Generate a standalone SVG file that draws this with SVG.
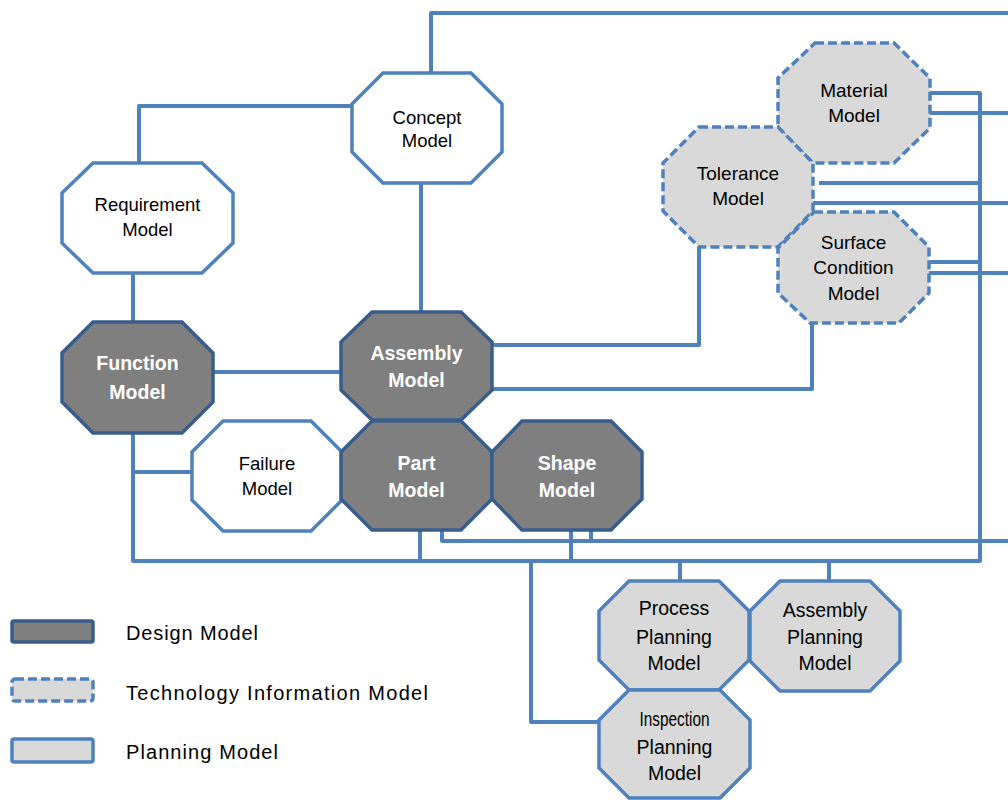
<svg xmlns="http://www.w3.org/2000/svg" width="1008" height="800" viewBox="0 0 1008 800">
<style>
.c{fill:none;stroke:#4F81BD;stroke-width:4;stroke-linejoin:round}
.w{fill:#FFFFFF;stroke:#4F81BD;stroke-width:3.5}
.d{fill:#7F7F7F;stroke:#385D8A;stroke-width:3.5}
.t{fill:#D9D9D9;stroke:#4F81BD;stroke-width:3.5;stroke-dasharray:9 4}
.p{fill:#D9D9D9;stroke:#4F81BD;stroke-width:3.5}
text{font-family:"Liberation Sans",Arial,sans-serif;text-anchor:middle;dominant-baseline:central;fill:#000}
.lw{font-size:18.5px}
.lt{font-size:19px}
.lp{font-size:19.5px}
.ld{font-size:19.5px;font-weight:bold;fill:#FFFFFF}
.lg{font-size:20px;text-anchor:start}
</style>
<g id="connectors">
<path class="c" d="M431,73 V13 H1008"/>
<path class="c" d="M139,163 V106 H352"/>
<path class="c" d="M133,273 V322"/>
<path class="c" d="M421,183 V312"/>
<path class="c" d="M213,372 H341"/>
<path class="c" d="M133,433 V561 H980 V93 H930"/>
<path class="c" d="M133,472 H192"/>
<path class="c" d="M930,113 H1008"/>
<path class="c" d="M819,183 H980"/>
<path class="c" d="M813,203 H1008"/>
<path class="c" d="M929,262 H980"/>
<path class="c" d="M929,273 H1008"/>
<path class="c" d="M699,247 V345 H492"/>
<path class="c" d="M812,323 V389 H492"/>
<path class="c" d="M420,530 V561"/>
<path class="c" d="M442,530 V541 H1008"/>
<path class="c" d="M571,530 V561"/>
<path class="c" d="M591,530 V541"/>
<path class="c" d="M531,561 V722 H599"/>
<path class="c" d="M680,561 V581"/>
<path class="c" d="M829,561 V581"/>
</g>
<g id="concept">
<polygon class="w" points="383,73 471,73 502,104 502,152 471,183 383,183 352,152 352,104"/>
<text class="lw" x="427" y="117">Concept</text>
<text class="lw" x="427" y="140">Model</text>
</g>
<g id="requirement">
<polygon class="w" points="93,163 202,163 233,193 233,243 202,273 93,273 62,243 62,193"/>
<text class="lw" x="147.5" y="204">Requirement</text>
<text class="lw" x="147.5" y="229">Model</text>
</g>
<g id="function">
<polygon class="d" points="93,322 182,322 213,353 213,402 182,433 93,433 62,402 62,353"/>
<text class="ld" x="137.5" y="363">Function</text>
<text class="ld" x="137.5" y="392">Model</text>
</g>
<g id="assembly">
<polygon class="d" points="372,312 461,312 492,342 492,390 461,420 372,420 341,390 341,342"/>
<text class="ld" x="416.5" y="353">Assembly</text>
<text class="ld" x="416.5" y="380">Model</text>
</g>
<g id="failure">
<polygon class="w" points="223,421 311,421 342,452 342,500 311,531 223,531 192,500 192,452"/>
<text class="lw" x="267" y="463">Failure</text>
<text class="lw" x="267" y="488">Model</text>
</g>
<g id="part">
<polygon class="d" points="372,421 461,421 492,452 492,499 461,530 372,530 341,499 341,452"/>
<text class="ld" x="416.5" y="463">Part</text>
<text class="ld" x="416.5" y="490">Model</text>
</g>
<g id="shape">
<polygon class="d" points="522,421 611,421 642,452 642,499 611,530 522,530 492,499 492,452"/>
<text class="ld" x="567" y="463">Shape</text>
<text class="ld" x="567" y="490">Model</text>
</g>
<g id="material">
<polygon class="t" points="815,43 894,43 930,78 930,128 894,163 813,163 778,128 778,78"/>
<text class="lt" x="854" y="90">Material</text>
<text class="lt" x="854" y="115">Model</text>
</g>
<g id="tolerance">
<polygon class="t" points="699,127 778,127 813,163 813,211 778,247 699,247 663,211 663,163"/>
<text class="lt" x="738" y="173">Tolerance</text>
<text class="lt" x="738" y="198">Model</text>
</g>
<g id="surface">
<polygon class="t" points="814,212 894,212 929,247 929,293 899,323 810,323 778,293 778,248"/>
<text class="lt" x="853.5" y="242">Surface</text>
<text class="lt" x="853.5" y="267">Condition</text>
<text class="lt" x="853.5" y="293">Model</text>
</g>
<g id="process-planning">
<polygon class="p" points="629,581 719,581 749,611 749,660 719,690 629,690 599,660 599,611"/>
<text class="lp" x="674" y="608">Process</text>
<text class="lp" x="674" y="637">Planning</text>
<text class="lp" x="674" y="663">Model</text>
</g>
<g id="assembly-planning">
<polygon class="p" points="780,581 870,581 900,611 900,661 870,691 780,691 750,661 750,611"/>
<text class="lp" x="825" y="610">Assembly</text>
<text class="lp" x="825" y="637">Planning</text>
<text class="lp" x="825" y="663">Model</text>
</g>
<g id="inspection-planning">
<polygon class="p" points="629,690 720,690 750,720 750,768 720,798 629,798 599,768 599,720"/>
<text class="lp" x="674.5" y="719" textLength="70" lengthAdjust="spacingAndGlyphs">Inspection</text>
<text class="lp" x="674.5" y="747">Planning</text>
<text class="lp" x="674.5" y="773">Model</text>
</g>
<g id="legend">
<rect class="d" x="12" y="621" width="81" height="21" rx="2"/>
<text class="lg" x="126" y="633" textLength="132">Design Model</text>
<rect class="t" x="12" y="679" width="81" height="22" rx="3"/>
<text class="lg" x="126" y="693" textLength="302">Technology Information Model</text>
<rect class="p" x="12" y="739" width="81" height="23" rx="2"/>
<text class="lg" x="126" y="752" textLength="152">Planning Model</text>
</g>
</svg>
